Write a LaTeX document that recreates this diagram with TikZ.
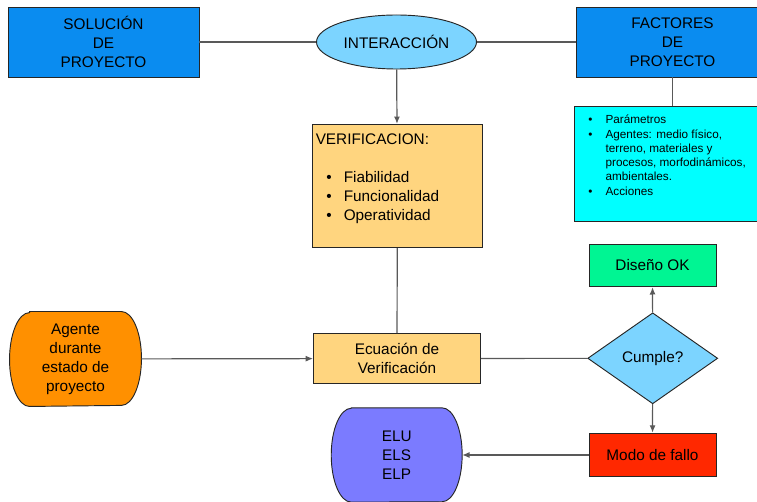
\documentclass[tikz,border=0pt]{standalone}
\usepackage{fontspec}
\setmainfont{Liberation Sans}
\usetikzlibrary{shapes.geometric,arrows.meta,backgrounds}
\definecolor{solblue}{HTML}{0A8CF0}
\definecolor{skyblue}{HTML}{7CD4FF}
\definecolor{paramcyan}{HTML}{00FFFF}
\definecolor{verifsand}{HTML}{FFD57F}
\definecolor{okgreen}{HTML}{00F593}
\definecolor{failred}{HTML}{FF2800}
\definecolor{agentorange}{HTML}{FF9000}
\definecolor{limblue}{HTML}{7B7BFF}
\newcommand{\blt}{\makebox[13pt][l]{\textbullet}}
\begin{document}
\begin{tikzpicture}[x=0.75pt,y=-0.75pt,
	box/.style={draw=black!85,line width=0.7pt,inner sep=0pt,align=center,font=\fontsize{11.5}{14.25}\selectfont},
	link/.style={draw=black!65,line width=0.9pt},
	arr/.style={link,-{Latex[length=5.5pt,width=4.5pt]}}]
\useasboundingbox (0,0) rectangle (757,502);
\node[box,fill=solblue,minimum width=143.25pt,minimum height=52.5pt] (sol) at (103.5,42) {SOLUCIÓN\\DE\\PROYECTO};
\node[box,ellipse,fill=skyblue,minimum width=120pt,minimum height=40.5pt] (inter) at (396.5,42) {INTERACCIÓN};
\node[box,fill=solblue,minimum width=144.75pt,minimum height=52.5pt] (fact) at (672.5,42) {FACTORES\\DE\\PROYECTO};
\node[box,fill=paramcyan,minimum width=147pt,minimum height=85.7pt] (param) at (672.7,163.85) {};
\node[anchor=north west,inner sep=0pt,align=left,font=\fontsize{8.8}{10.7}\selectfont] (paramtxt) at (588,115)
	{\blt Parámetros\\\blt Agentes: medio físico,\\\hspace*{13pt}terreno, materiales y\\\hspace*{13pt}procesos, morfodinámicos,\\\hspace*{13pt}ambientales.\\\blt Acciones};
\node[box,fill=verifsand,minimum width=128pt,minimum height=92.5pt] (verif) at (397.35,186) {};
\node[anchor=north west,inner sep=0pt,align=left,font=\fontsize{11.5}{14.25}\selectfont] (veriftxt) at (315.5,133.5)
	{VERIFICACION:\\[14.25pt]\hspace*{8pt}\blt Fiabilidad\\\hspace*{8pt}\blt Funcionalidad\\\hspace*{8pt}\blt Operatividad};
\node[box,fill=verifsand,minimum width=125.25pt,minimum height=37.5pt] (ecu) at (397,358.5) {Ecuación de\\Verificación};
\node[box,draw=none,minimum width=98.25pt,minimum height=70.5pt] (agente) at (75.5,359) {Agente\\durante\\estado de\\proyecto};
\node[box,diamond,aspect=1.43,fill=skyblue,minimum width=97.5pt,minimum height=68.25pt] (cumple) at (652.7,358.3) {Cumple?};
\node[box,fill=okgreen,minimum width=95.25pt,minimum height=31.8pt] (diseno) at (652.5,265.5) {Diseño OK};
\node[box,fill=failred,minimum width=95.25pt,minimum height=32.8pt] (modo) at (652.5,455) {Modo de fallo};
\node[box,draw=none,minimum width=97.5pt,minimum height=70pt] (elu) at (396.7,455) {ELU\\ELS\\ELP};
\begin{scope}[on background layer]
\foreach \n/\c in {agente/agentorange,elu/limblue}
	\draw[draw=black!85,line width=0.7pt,fill=\c] ([xshift=15pt]\n.north west) -- ([xshift=-15pt]\n.north east)
		arc[start angle=90,end angle=-90,x radius=15pt,y radius=35.2pt] -- ([xshift=15pt]\n.south west)
		arc[start angle=270,end angle=90,x radius=15pt,y radius=35.2pt] -- cycle;
\end{scope}
\draw[link] (sol) -- (inter);
\draw[link] (inter) -- (fact);
\draw[link] (fact.south -| param.north) -- (param.north);
\draw[arr] (inter) -- (verif);
\draw[link] (verif) -- (ecu);
\draw[arr] (agente) -- (ecu);
\draw[link] (ecu) -- (cumple);
\draw[arr] (cumple) -- (diseno);
\draw[arr] (cumple) -- (modo);
\draw[arr] (modo) -- (elu);
\end{tikzpicture}
\end{document}
